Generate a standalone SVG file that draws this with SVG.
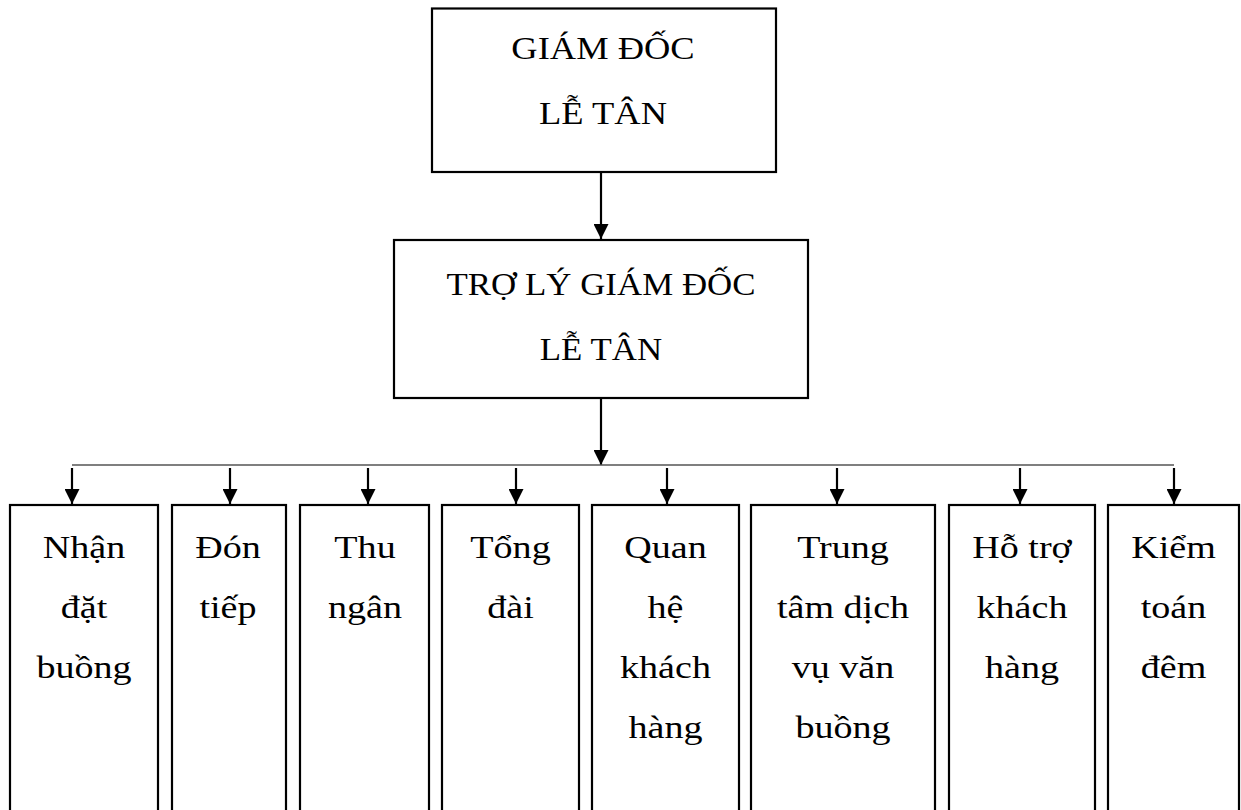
<svg xmlns="http://www.w3.org/2000/svg" width="1241" height="810" viewBox="0 0 1241 810">
<style>
.box{fill:#fff;stroke:#000;stroke-width:2.2}
.t{font-family:"Liberation Serif","DejaVu Serif",serif;font-size:32px;fill:#000;text-anchor:middle}
.arr{stroke:#000;stroke-width:2.2;fill:none;marker-end:url(#ah)}
.bus{stroke:#555;stroke-width:1.6;fill:none}
</style>
<defs>
<marker id="ah" markerUnits="userSpaceOnUse" markerWidth="15" markerHeight="15" viewBox="0 0 15 15" refX="15" refY="7.5" orient="auto">
<path d="M0,0 L15,7.5 L0,15 z" fill="#000"/>
</marker>
</defs>
<rect width="1241" height="810" fill="#fff"/>
<g id="connectors">
<line class="arr" x1="601" y1="172" x2="601" y2="239"/>
<line class="arr" x1="601" y1="398" x2="601" y2="465"/>
<line class="bus" x1="72" y1="465" x2="1174" y2="465"/>
<line class="arr" x1="72" y1="468" x2="72" y2="504"/>
<line class="arr" x1="230" y1="468" x2="230" y2="504"/>
<line class="arr" x1="368" y1="468" x2="368" y2="504"/>
<line class="arr" x1="516" y1="468" x2="516" y2="504"/>
<line class="arr" x1="667" y1="468" x2="667" y2="504"/>
<line class="arr" x1="837" y1="468" x2="837" y2="504"/>
<line class="arr" x1="1020" y1="468" x2="1020" y2="504"/>
<line class="arr" x1="1174" y1="468" x2="1174" y2="504"/>
</g>
<g id="giam-doc">
<rect class="box" x="432" y="8.5" width="344" height="163.5"/>
<text class="t" transform="translate(603,0) scale(1.14,1)" x="0" y="59">GIÁM ĐỐC</text>
<text class="t" transform="translate(603,0) scale(1.14,1)" x="0" y="124">LỄ TÂN</text>
</g>
<g id="tro-ly">
<rect class="box" x="394" y="240" width="414" height="158"/>
<text class="t" transform="translate(601,0) scale(1.09,1)" x="0" y="295">TRỢ LÝ GIÁM ĐỐC</text>
<text class="t" transform="translate(601,0) scale(1.09,1)" x="0" y="360">LỄ TÂN</text>
</g>
<g id="nhan-dat-buong">
<rect class="box" x="10" y="505" width="148" height="330"/>
<text class="t" transform="translate(84,0) scale(1.19,1)" x="0"><tspan x="0" y="558">Nhận</tspan><tspan x="0" y="618">đặt</tspan><tspan x="0" y="678">buồng</tspan></text>
</g>
<g id="don-tiep">
<rect class="box" x="172" y="505" width="114" height="330"/>
<text class="t" transform="translate(228,0) scale(1.19,1)" x="0"><tspan x="0" y="558">Đón</tspan><tspan x="0" y="618">tiếp</tspan></text>
</g>
<g id="thu-ngan">
<rect class="box" x="300" y="505" width="129" height="330"/>
<text class="t" transform="translate(365,0) scale(1.19,1)" x="0"><tspan x="0" y="558">Thu</tspan><tspan x="0" y="618">ngân</tspan></text>
</g>
<g id="tong-dai">
<rect class="box" x="442" y="505" width="137" height="330"/>
<text class="t" transform="translate(510.5,0) scale(1.19,1)" x="0"><tspan x="0" y="558">Tổng</tspan><tspan x="0" y="618">đài</tspan></text>
</g>
<g id="quan-he-khach-hang">
<rect class="box" x="592" y="505" width="147" height="330"/>
<text class="t" transform="translate(665.5,0) scale(1.19,1)" x="0"><tspan x="0" y="558">Quan</tspan><tspan x="0" y="618">hệ</tspan><tspan x="0" y="678">khách</tspan><tspan x="0" y="738">hàng</tspan></text>
</g>
<g id="trung-tam-dich-vu-van-buong">
<rect class="box" x="751" y="505" width="184" height="330"/>
<text class="t" transform="translate(843,0) scale(1.19,1)" x="0"><tspan x="0" y="558">Trung</tspan><tspan x="0" y="618">tâm dịch</tspan><tspan x="0" y="678">vụ văn</tspan><tspan x="0" y="738">buồng</tspan></text>
</g>
<g id="ho-tro-khach-hang">
<rect class="box" x="949" y="505" width="146" height="330"/>
<text class="t" transform="translate(1022,0) scale(1.19,1)" x="0"><tspan x="0" y="558">Hỗ trợ</tspan><tspan x="0" y="618">khách</tspan><tspan x="0" y="678">hàng</tspan></text>
</g>
<g id="kiem-toan-dem">
<rect class="box" x="1108" y="505" width="131" height="330"/>
<text class="t" transform="translate(1173.5,0) scale(1.19,1)" x="0"><tspan x="0" y="558">Kiểm</tspan><tspan x="0" y="618">toán</tspan><tspan x="0" y="678">đêm</tspan></text>
</g>
</svg>
